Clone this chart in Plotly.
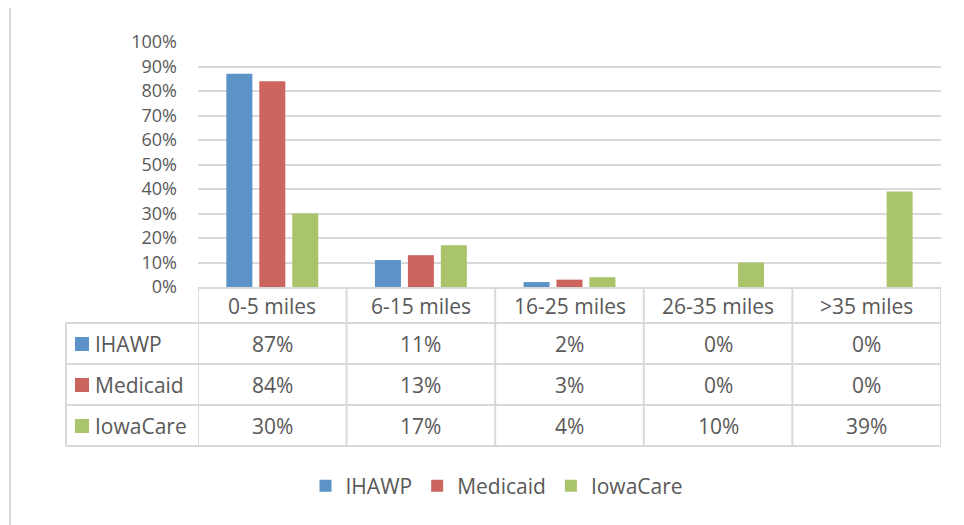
import plotly.graph_objects as go

# ---- data ----
categories = ["0-5 miles", "6-15 miles", "16-25 miles", "26-35 miles", ">35 miles"]
series_names = ["IHAWP", "Medicaid", "IowaCare"]
ihawp = [87, 11, 2, 0, 0]
medicaid = [84, 13, 3, 0, 0]
iowacare = [30, 17, 4, 10, 39]
y_ticks = [0, 10, 20, 30, 40, 50, 60, 70, 80, 90, 100]
y_tick_labels = [f"{v}%" for v in y_ticks]

series_values = [ihawp, medicaid, iowacare]
colors = ["#5B93C7", "#CD655F", "#AAC46B"]

# ---- geometry (page pixels; the page body has an 8px margin) ----
OFF = 8
PW, PH = 964, 525
W, H = PW - OFF, PH - OFF
L, R, T, B = 198, 941, 42, 287
FONT = "Open Sans"
TXT = "#595959"
GRID = "#D9D9D9"


def px_x(px):
    return (px - L) / (R - L)


def px_y(py):
    return (B - py) / (B - T)


fig = go.Figure()
for name, vals, c in zip(series_names, series_values, colors):
    fig.add_trace(go.Bar(x=categories, y=vals, name=name,
                         marker=dict(color=c, line=dict(width=0))))

fig.update_layout(
    width=W, height=H,
    margin=dict(l=L - OFF, r=PW - R, t=T - OFF, b=PH - B),
    paper_bgcolor="white", plot_bgcolor="white",
    barmode="group", bargap=0.335, bargroupgap=0.21,
    font=dict(family=FONT, size=21, color=TXT),
    showlegend=True,
    legend=dict(orientation="h", xref="container", yref="container",
                x=(497 - OFF) / W, y=1 - (486 - OFF) / H,
                xanchor="center", yanchor="middle",
                font=dict(family=FONT, size=21, color=TXT),
                itemclick=False, itemdoubleclick=False),
)
fig.update_xaxes(type="category", range=[-0.5, len(categories) - 0.5],
                 showticklabels=False, showgrid=False, zeroline=False,
                 showline=True, linecolor=GRID, linewidth=2)
fig.update_yaxes(range=[0, 100], tickvals=y_ticks, ticktext=y_tick_labels,
                 showgrid=True, gridcolor=GRID, gridwidth=2, zeroline=False,
                 showline=False, ticklabelstandoff=20,
                 tickfont=dict(family=FONT, size=18, color=TXT))

shapes = []
line = dict(color=GRID, width=2)
# table horizontal lines
row_edges = [323, 364, 405, 446]
for py in row_edges:
    shapes.append(dict(type="line", xref="paper", yref="paper",
                       x0=px_x(66), x1=1, y0=px_y(py), y1=px_y(py), line=line))
# left border of row-label column
shapes.append(dict(type="line", xref="paper", yref="paper",
                   x0=px_x(66), x1=px_x(66), y0=px_y(323), y1=px_y(446), line=line))
# category column boundaries
for i in range(len(categories) + 1):
    shapes.append(dict(type="line", xref="x", yref="paper",
                       x0=i - 0.5, x1=i - 0.5, y0=0, y1=px_y(446), line=line))
# outer chart border (left and top)
shapes.append(dict(type="line", xref="paper", yref="paper",
                   x0=px_x(10), x1=px_x(10), y0=px_y(7), y1=px_y(530), line=line))
shapes.append(dict(type="line", xref="paper", yref="paper",
                   x0=px_x(10), x1=px_x(970), y0=px_y(7), y1=px_y(7), line=line))

annotations = []
# header labels
for cat in categories:
    annotations.append(dict(x=cat, xref="x", y=px_y(306), yref="paper",
                            text=cat, showarrow=False, xanchor="center", yanchor="middle",
                            font=dict(family=FONT, size=21, color=TXT)))
row_centers = [344, 385, 426]
for name, vals, c, yc in zip(series_names, series_values, colors, row_centers):
    shapes.append(dict(type="rect", xref="paper", yref="paper",
                       x0=px_x(75), x1=px_x(89), y0=px_y(yc - 7), y1=px_y(yc + 7),
                       fillcolor=c, line=dict(width=0)))
    annotations.append(dict(x=px_x(93), xref="paper", y=px_y(yc), yref="paper",
                            text=name, showarrow=False, xanchor="left", yanchor="middle",
                            font=dict(family=FONT, size=21, color=TXT)))
    for cat, v in zip(categories, vals):
        annotations.append(dict(x=cat, xref="x", y=px_y(yc), yref="paper",
                                text=f"{v}%", showarrow=False, xanchor="center",
                                yanchor="middle",
                                font=dict(family=FONT, size=21, color=TXT)))

fig.update_layout(shapes=shapes, annotations=annotations)
fig.write_html("out.html")
